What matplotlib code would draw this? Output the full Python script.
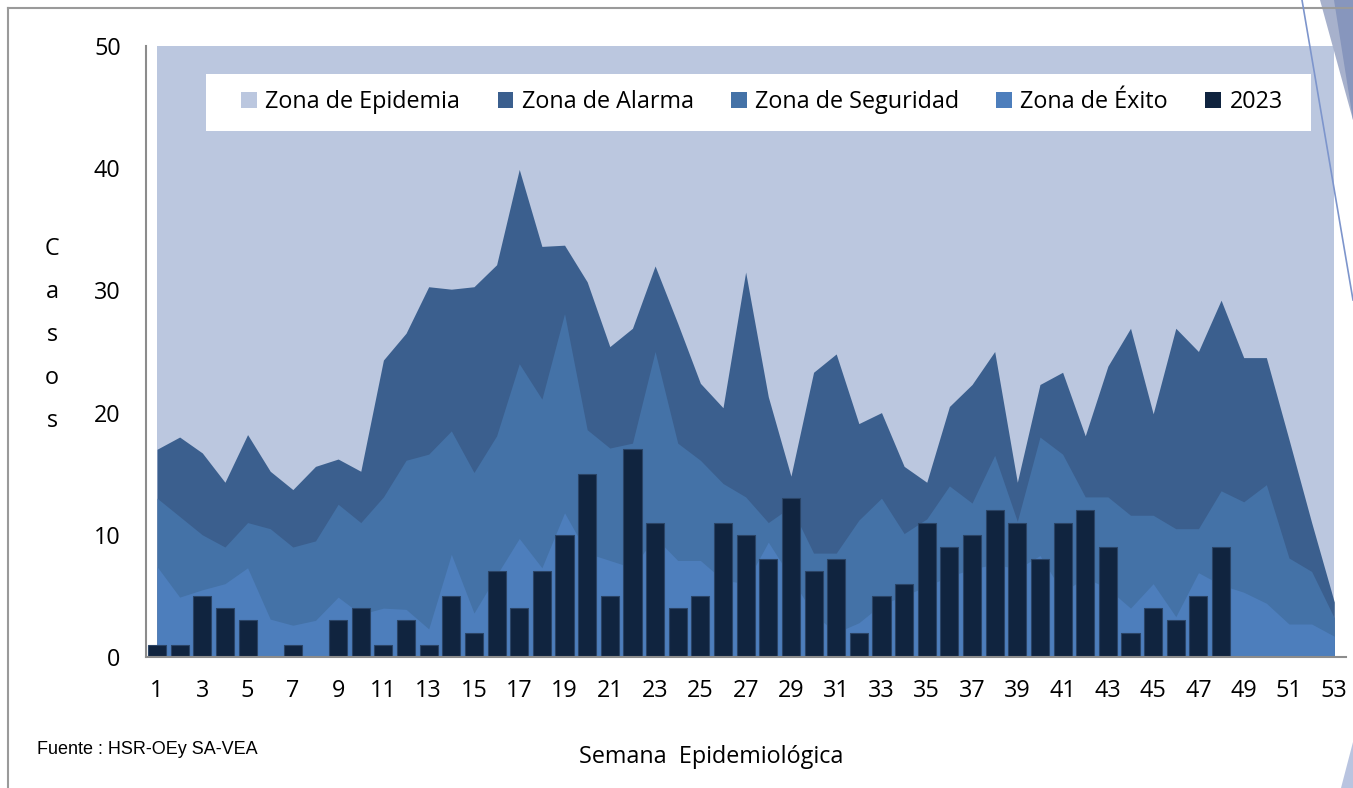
import numpy as np
import matplotlib
matplotlib.use("Agg")
import matplotlib.pyplot as plt
from matplotlib.patches import Patch, Rectangle, Polygon
from matplotlib.lines import Line2D

# ---------------- data ----------------
weeks = list(range(1, 54))
epidemia_top = [50] * 53
alarma_top = [17.0, 18.0, 16.7, 14.3, 18.2, 15.2, 13.7, 15.6, 16.2, 15.2,
              24.3, 26.5, 30.3, 30.1, 30.3, 32.1, 39.9, 33.6, 33.7, 30.7,
              25.4, 26.9, 32.0, 27.3, 22.4, 20.4, 31.5, 21.3, 14.8, 23.3,
              24.8, 19.1, 20.0, 15.6, 14.3, 20.5, 22.3, 25.0, 14.3, 22.3,
              23.3, 18.1, 23.8, 26.9, 19.9, 26.9, 25.0, 29.2, 24.5, 24.5,
              17.8, 11.0, 4.5]
seguridad_top = [13.0, 11.5, 10.0, 9.0, 11.0, 10.5, 9.0, 9.5, 12.5, 11.0,
                 13.1, 16.1, 16.6, 18.5, 15.1, 18.1, 24.0, 21.1, 28.1, 18.6,
                 17.1, 17.5, 25.0, 17.5, 16.1, 14.2, 13.1, 11.0, 12.3, 8.5,
                 8.5, 11.2, 13.0, 10.1, 11.3, 14.0, 12.6, 16.5, 11.1, 18.0,
                 16.6, 13.1, 13.1, 11.6, 11.6, 10.5, 10.5, 13.6, 12.7, 14.1,
                 8.1, 7.0, 3.2]
exito_top = [7.4, 4.9, 5.5, 6.0, 7.3, 3.1, 2.6, 3.0, 4.9, 3.5,
             4.0, 3.9, 2.3, 8.4, 3.6, 6.7, 9.7, 7.3, 11.8, 8.5,
             7.9, 7.3, 9.8, 7.9, 7.9, 6.3, 6.0, 9.4, 6.5, 3.5,
             2.0, 2.8, 4.3, 5.0, 5.8, 6.6, 7.2, 7.6, 7.2, 8.3,
             5.3, 6.5, 5.6, 4.0, 6.0, 3.3, 6.9, 5.9, 5.3, 4.4,
             2.7, 2.7, 1.7]
weeks_2023 = list(range(1, 49))
casos_2023 = [1, 1, 5, 4, 3, 0, 1, 0, 3, 4, 1, 3, 1, 5, 2, 7, 4, 7, 10, 15,
              5, 17, 11, 4, 5, 11, 10, 8, 13, 7, 8, 2, 5, 6, 11, 9, 10, 12, 11, 8,
              11, 12, 9, 2, 4, 3, 5, 9]
xtick_labels = [str(w) for w in range(1, 54, 2)]
yticks = [0, 10, 20, 30, 40, 50]
series_names = ["Zona de Epidemia", "Zona de Alarma", "Zona de Seguridad", "Zona de Éxito", "2023"]

# ---------------- style ----------------
C_EPI = "#BBC7DF"
C_ALA = "#3B5F8E"
C_SEG = "#4472A7"
C_EXI = "#4D7EBC"
C_BAR = "#10243F"
FONT = "Open Sans"
FS = 16.8

W, H = 1353, 788
fig = plt.figure(figsize=(W / 100, H / 100), dpi=100)
fig.patch.set_facecolor("white")

def fx(px):
    return px / W

def fy(py):
    return 1 - py / H

ax_l, ax_r, ax_t, ax_b = 145.7, 1345.6, 46, 657
ax = fig.add_axes([fx(ax_l), fy(ax_b), fx(ax_r - ax_l), (ax_b - ax_t) / H])
ax.set_facecolor("white")

x = np.array(weeks)
ax.fill_between(x, 0, epidemia_top, color=C_EPI, lw=0, zorder=1)
ax.fill_between(x, 0, alarma_top, color=C_ALA, lw=0, zorder=2)
ax.fill_between(x, 0, seguridad_top, color=C_SEG, lw=0, zorder=3)
ax.fill_between(x, 0, exito_top, color=C_EXI, lw=0, zorder=4)
ax.bar(weeks_2023, casos_2023, width=0.8, color=C_BAR, edgecolor="#2a4466",
       linewidth=0.8, zorder=5)

ax.set_xlim(0.5, 53.5)
ax.set_ylim(0, 50)
ax.set_xticks(list(range(1, 54, 2)))
ax.set_xticklabels(xtick_labels, fontfamily=FONT, fontsize=FS)
ax.set_yticks(yticks)
ax.set_yticklabels([str(v) for v in yticks], fontfamily=FONT, fontsize=FS)
ax.tick_params(axis="both", length=0, colors="black")
ax.tick_params(axis="y", pad=18)
ax.tick_params(axis="x", pad=16)
for s in ["top", "right"]:
    ax.spines[s].set_visible(False)
for s in ["left", "bottom"]:
    ax.spines[s].set_color("#8c8c8c")
    ax.spines[s].set_linewidth(1.5)
    ax.spines[s].set_zorder(6)

# legend box
leg_box = Rectangle((fx(206), fy(131)), fx(1311 - 206), (131 - 74) / H,
                    transform=fig.transFigure, facecolor="white", edgecolor="none",
                    zorder=7)
ax.add_patch(leg_box)
leg_box.set_clip_on(False)
handles = [Patch(facecolor=c, edgecolor="none") for c in [C_EPI, C_ALA, C_SEG, C_EXI, C_BAR]]
leg = ax.legend(handles, series_names, ncol=5, frameon=False, loc="center",
                bbox_to_anchor=(fx(762), fy(102)), bbox_transform=fig.transFigure,
                prop={"family": FONT, "size": FS}, handlelength=0.68, handleheight=0.68,
                handletextpad=0.35, columnspacing=1.6)
leg.set_zorder(8)

# axis labels
fig.text(fx(52), fy(335), "C\na\ns\no\ns", ha="center", va="center",
         fontfamily=FONT, fontsize=FS, linespacing=2.05)
fig.text(fx(711), fy(757), "Semana  Epidemiológica", ha="center", va="center",
         fontfamily=FONT, fontsize=FS)
fig.text(fx(37), fy(750), "Fuente : HSR-OEy SA-VEA", ha="left", va="center",
         fontfamily="Liberation Sans", fontsize=13)

# frame and decorations
fig.add_artist(Line2D([fx(8), fx(1353)], [fy(8), fy(8)], color="#9a9a9a", lw=1.5))
fig.add_artist(Line2D([fx(8), fx(8)], [fy(8), fy(788)], color="#9a9a9a", lw=1.5))
fig.add_artist(Polygon([(fx(1320), fy(0)), (fx(1353), fy(0)), (fx(1353), fy(120))],
                       closed=True, facecolor="#a7b1cc", edgecolor="none"))
fig.add_artist(Polygon([(fx(1334), fy(0)), (fx(1353), fy(0)), (fx(1353), fy(120))],
                       closed=True, facecolor="#8796bd", edgecolor="none"))
fig.add_artist(Line2D([fx(1302), fx(1353)], [fy(0), fy(300)], color="#7d95cc", lw=1.2))
fig.add_artist(Polygon([(fx(1341), fy(788)), (fx(1353), fy(788)), (fx(1353), fy(742))],
                       closed=True, facecolor="#b9c4e0", edgecolor="none"))

fig.savefig("out.png", dpi=100)
